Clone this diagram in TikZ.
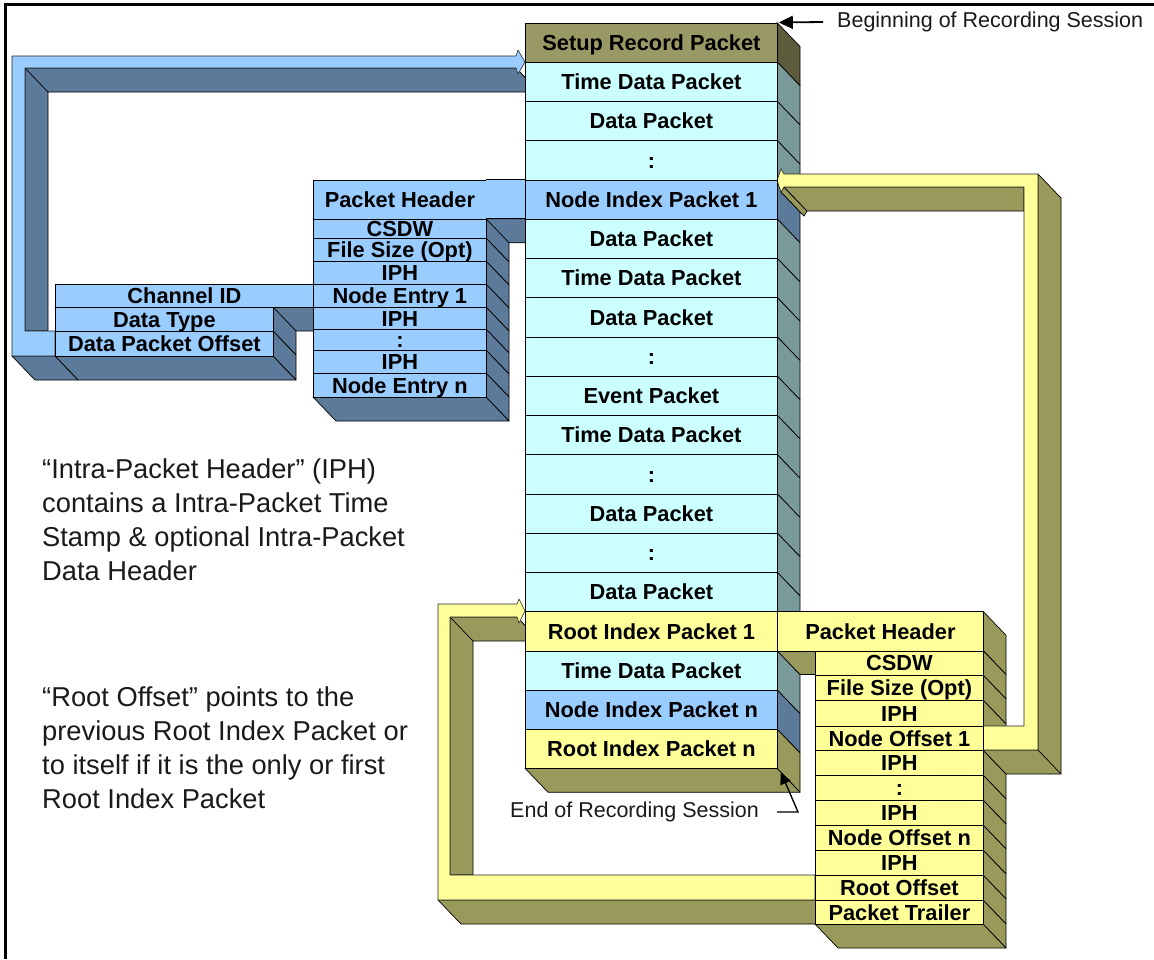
\documentclass[tikz,border=0pt]{standalone}
\usepackage{fontspec}
\setmainfont{Liberation Sans}
\usetikzlibrary{arrows.meta}
\definecolor{cyanF}{HTML}{CCFFFF}
\definecolor{cyanD}{HTML}{7A9999}
\definecolor{blueF}{HTML}{99CCFF}
\definecolor{blueD}{HTML}{5C7A99}
\definecolor{yelF}{HTML}{FFFF99}
\definecolor{yelD}{HTML}{99995C}
\definecolor{oliveF}{HTML}{999966}
\definecolor{oliveD}{HTML}{5C5C3D}
\definecolor{inkc}{HTML}{1A1A1A}
\def\collist{0/oliveF/oliveD/Setup Record Packet,
1/cyanF/cyanD/Time Data Packet,
2/cyanF/cyanD/Data Packet,
3/cyanF/cyanD/:,
4/blueF/blueD/Node Index Packet 1,
5/cyanF/cyanD/Data Packet,
6/cyanF/cyanD/Time Data Packet,
7/cyanF/cyanD/Data Packet,
8/cyanF/cyanD/:,
9/cyanF/cyanD/Event Packet,
10/cyanF/cyanD/Time Data Packet,
11/cyanF/cyanD/:,
12/cyanF/cyanD/Data Packet,
13/cyanF/cyanD/:,
14/cyanF/cyanD/Data Packet,
15/yelF/yelD/Root Index Packet 1,
16/cyanF/cyanD/Time Data Packet,
17/blueF/blueD/Node Index Packet n,
18/yelF/yelD/Root Index Packet n}
\def\bluesub{218.75/238/CSDW,
238/261/File Size (Opt),
261/284/IPH,
284/307/Node Entry 1,
307/329/IPH,
329/350/:,
350/373/IPH,
373/397/Node Entry n}
\def\leftsub{307/331/Data Type,
331/356/Data Packet Offset}
\def\yelsub{650.5/675/CSDW,
675/700/File Size (Opt),
700/726/IPH,
726/750/Node Offset 1,
750/775/IPH,
775/800/:,
800/825/IPH,
825/850/Node Offset n,
850/875/IPH,
875/900/Root Offset,
900/924/Packet Trailer}
\begin{document}
\begin{tikzpicture}[x=1pt,y=-1pt,
  face/.style={draw=black, line width=0.7pt, line join=round},
  conn/.style={draw=black!85, line width=0.6pt, line join=round},
  rowbox/.style={draw=black, line width=0.8pt, inner sep=0pt, anchor=north west,
     font=\fontsize{21.8}{22}\selectfont\bfseries, text height=15.6pt, text depth=0pt},
  note/.style={inner sep=0pt, align=left, anchor=north west, text=inkc,
     font=\fontsize{27.3}{33.8}\selectfont},
  callout/.style={inner sep=0pt, text=inkc, font=\fontsize{21.5}{24}\selectfont},
  ptr/.style={draw=black, line width=1.8pt, -{Triangle[length=14pt,width=13pt]}},
  ptrb/.style={draw=black, line width=1.4pt, -{Triangle[length=12pt,width=11pt]}}
]
\useasboundingbox (0,0) rectangle (1154,959);
\fill[white] (0,0) rectangle (1154,959);

% ================= pass 1 : depth faces =================
% main column
\foreach \i/\f/\d/\t in \collist {
  \pgfmathsetmacro\ya{22.5+\i*39.25}
  \pgfmathsetmacro\yb{22.5+(\i+1)*39.25}
  \filldraw[face, fill=\d] (777,\ya) -- (800,{\ya+24}) -- (800,{\yb+24}) -- (777,\yb) -- cycle;
}
\filldraw[face, fill=yelD] (525,768.25) -- (777,768.25) -- (800,792.25) -- (548,792.25) -- cycle;

% blue node-index stack
\filldraw[face, fill=blueD] (313,218.75) -- (525,218.75) -- (548,242.75) -- (336,242.75) -- cycle;
\foreach \ya/\yb/\t in \bluesub {
  \filldraw[face, fill=blueD] (486,\ya) -- (509,{\ya+24}) -- (509,{\yb+24}) -- (486,\yb) -- cycle;
}
\filldraw[face, fill=blueD] (313,397) -- (486,397) -- (509,421) -- (336,421) -- cycle;

% channel id stack
\filldraw[face, fill=blueD] (55,307) -- (313,307) -- (336,331) -- (78,331) -- cycle;
\foreach \ya/\yb/\t in \leftsub {
  \filldraw[face, fill=blueD] (273,\ya) -- (296,{\ya+24}) -- (296,{\yb+24}) -- (273,\yb) -- cycle;
}
\filldraw[face, fill=blueD] (55,356) -- (273,356) -- (296,380) -- (78,380) -- cycle;

% blue connector depth
\filldraw[face, fill=blueD] (516,68) -- (518,74) -- (541,98) -- (539,92) -- cycle;
\filldraw[face, fill=blueD] (25,68) -- (516,68) -- (539,92) -- (48,92) -- (48,331) -- (25,331) -- cycle;
\draw[face] (25,68) -- (48,92);
\filldraw[face, fill=blueD] (12,356) -- (55,356) -- (78,380) -- (35,380) -- cycle;

% yellow root connector depth
\filldraw[face, fill=yelD] (517,617) -- (519,623) -- (542,647) -- (540,641) -- cycle;
\filldraw[face, fill=yelD] (450,617) -- (517,617) -- (540,641) -- (473,641) -- (473,875) -- (450,875) -- cycle;
\draw[face] (450,617) -- (473,641);
\filldraw[face, fill=yelD] (438,900) -- (815,900) -- (838,924) -- (461,924) -- cycle;

% yellow root-index stack
\filldraw[face, fill=yelD] (983,611.25) -- (1006,635.25) -- (1006,674.5) -- (983,650.5) -- cycle;
\filldraw[face, fill=yelD] (777,650.5) -- (983,650.5) -- (1006,674.5) -- (800,674.5) -- cycle;
\foreach \ya/\yb/\t in \yelsub {
  \filldraw[face, fill=yelD] (983,\ya) -- (1006,{\ya+24}) -- (1006,{\yb+24}) -- (983,\yb) -- cycle;
}
\filldraw[face, fill=yelD] (815,924) -- (983,924) -- (1006,948) -- (838,948) -- cycle;

% yellow node connector depth
\filldraw[face, fill=yelD] (777,180.5) -- (781,192) -- (804,216) -- (800,204.5) -- cycle;
\filldraw[face, fill=yelD] (781,192) -- (784,187) -- (807,211) -- (804,216) -- cycle;
\filldraw[face, fill=yelD] (784,187) -- (1024,187) -- (1024,211) -- (807,211) -- cycle;
\filldraw[face, fill=yelD] (1038,174) -- (1061,198) -- (1061,774) -- (1006,774) -- (983,750) -- (1038,750) -- cycle;
\draw[face] (1038,750) -- (1061,774);

% ================= pass 2 : front faces =================
% connectors
\filldraw[conn, fill=blueF] (525,62) -- (518,50) -- (516,56) -- (12,56) -- (12,356) -- (55,356)
  -- (55,331) -- (25,331) -- (25,68) -- (516,68) -- (518,74) -- cycle;
\filldraw[conn, fill=yelF] (525,611) -- (519,599) -- (517,604) -- (438,604) -- (438,900) -- (815,900)
  -- (815,875) -- (450,875) -- (450,617) -- (517,617) -- (519,623) -- cycle;
\filldraw[conn, fill=yelF] (777,180.5) -- (781,169) -- (784,174) -- (1038,174) -- (1038,750) -- (983,750)
  -- (983,726) -- (1024,726) -- (1024,187) -- (784,187) -- (781,192) -- cycle;

% main column
\foreach \i/\f/\d/\t in \collist {
  \pgfmathsetmacro\ya{22.5+\i*39.25}
  \node[rowbox, fill=\f, minimum width=252pt, minimum height=39.25pt] (c\i) at (525,\ya) {\t};
}

% blue node-index stack
\node[rowbox, fill=blueF, minimum width=173pt, minimum height=39.25pt] (bph) at (313,179.5) {Packet Header};
\fill[blueF] (485.6,179.5) rectangle (525,218.75);
\draw[line width=0.8pt] (485.6,179.5) -- (525,179.5) (485.6,218.75) -- (525,218.75);
\foreach \ya/\yb/\t [count=\k] in \bluesub {
  \pgfmathsetmacro\h{\yb-\ya}
  \node[rowbox, fill=blueF, minimum width=173pt, minimum height=\h pt] (bs\k) at (313,\ya) {\t};
}

% channel id stack
\node[rowbox, fill=blueF, minimum width=258pt, minimum height=23pt] (chid) at (55,284) {Channel ID};
\foreach \ya/\yb/\t [count=\k] in \leftsub {
  \pgfmathsetmacro\h{\yb-\ya}
  \node[rowbox, fill=blueF, minimum width=218pt, minimum height=\h pt] (ls\k) at (55,\ya) {\t};
}

% yellow root-index stack
\node[rowbox, fill=yelF, minimum width=206pt, minimum height=39.25pt] (yph) at (777,611.25) {Packet Header};
\foreach \ya/\yb/\t [count=\k] in \yelsub {
  \pgfmathsetmacro\h{\yb-\ya}
  \node[rowbox, fill=yelF, minimum width=168pt, minimum height=\h pt] (ys\k) at (815,\ya) {\t};
}

% callouts
\node[callout, anchor=west] (beg) at (837,22) {Beginning of Recording Session};
\draw[ptr] ([xshift=-14pt]beg.west) -- ([xshift=1pt]c0.north east);
\node[callout, anchor=west] (fin) at (510,812) {End of Recording Session};
\coordinate (f1) at (777,812);
\coordinate (f2) at (798,812);
\draw[ptrb] (f1) -- (f2) -- ([shift={(3,3)}]c18.south east);

% notes
\node[note] (n1) at (42,459) {“Intra-Packet Header” (IPH)\\contains a Intra-Packet Time\\Stamp \& optional Intra-Packet\\Data Header};
\node[note] (n2) at (42,687) {“Root Offset” points to the\\previous Root Index Packet or\\to itself if it is the only or first\\Root Index Packet};

% frame
\draw[line width=2.5pt] (5.5,959) -- (5.5,4.5) -- (1154,4.5);
\end{tikzpicture}
\end{document}
